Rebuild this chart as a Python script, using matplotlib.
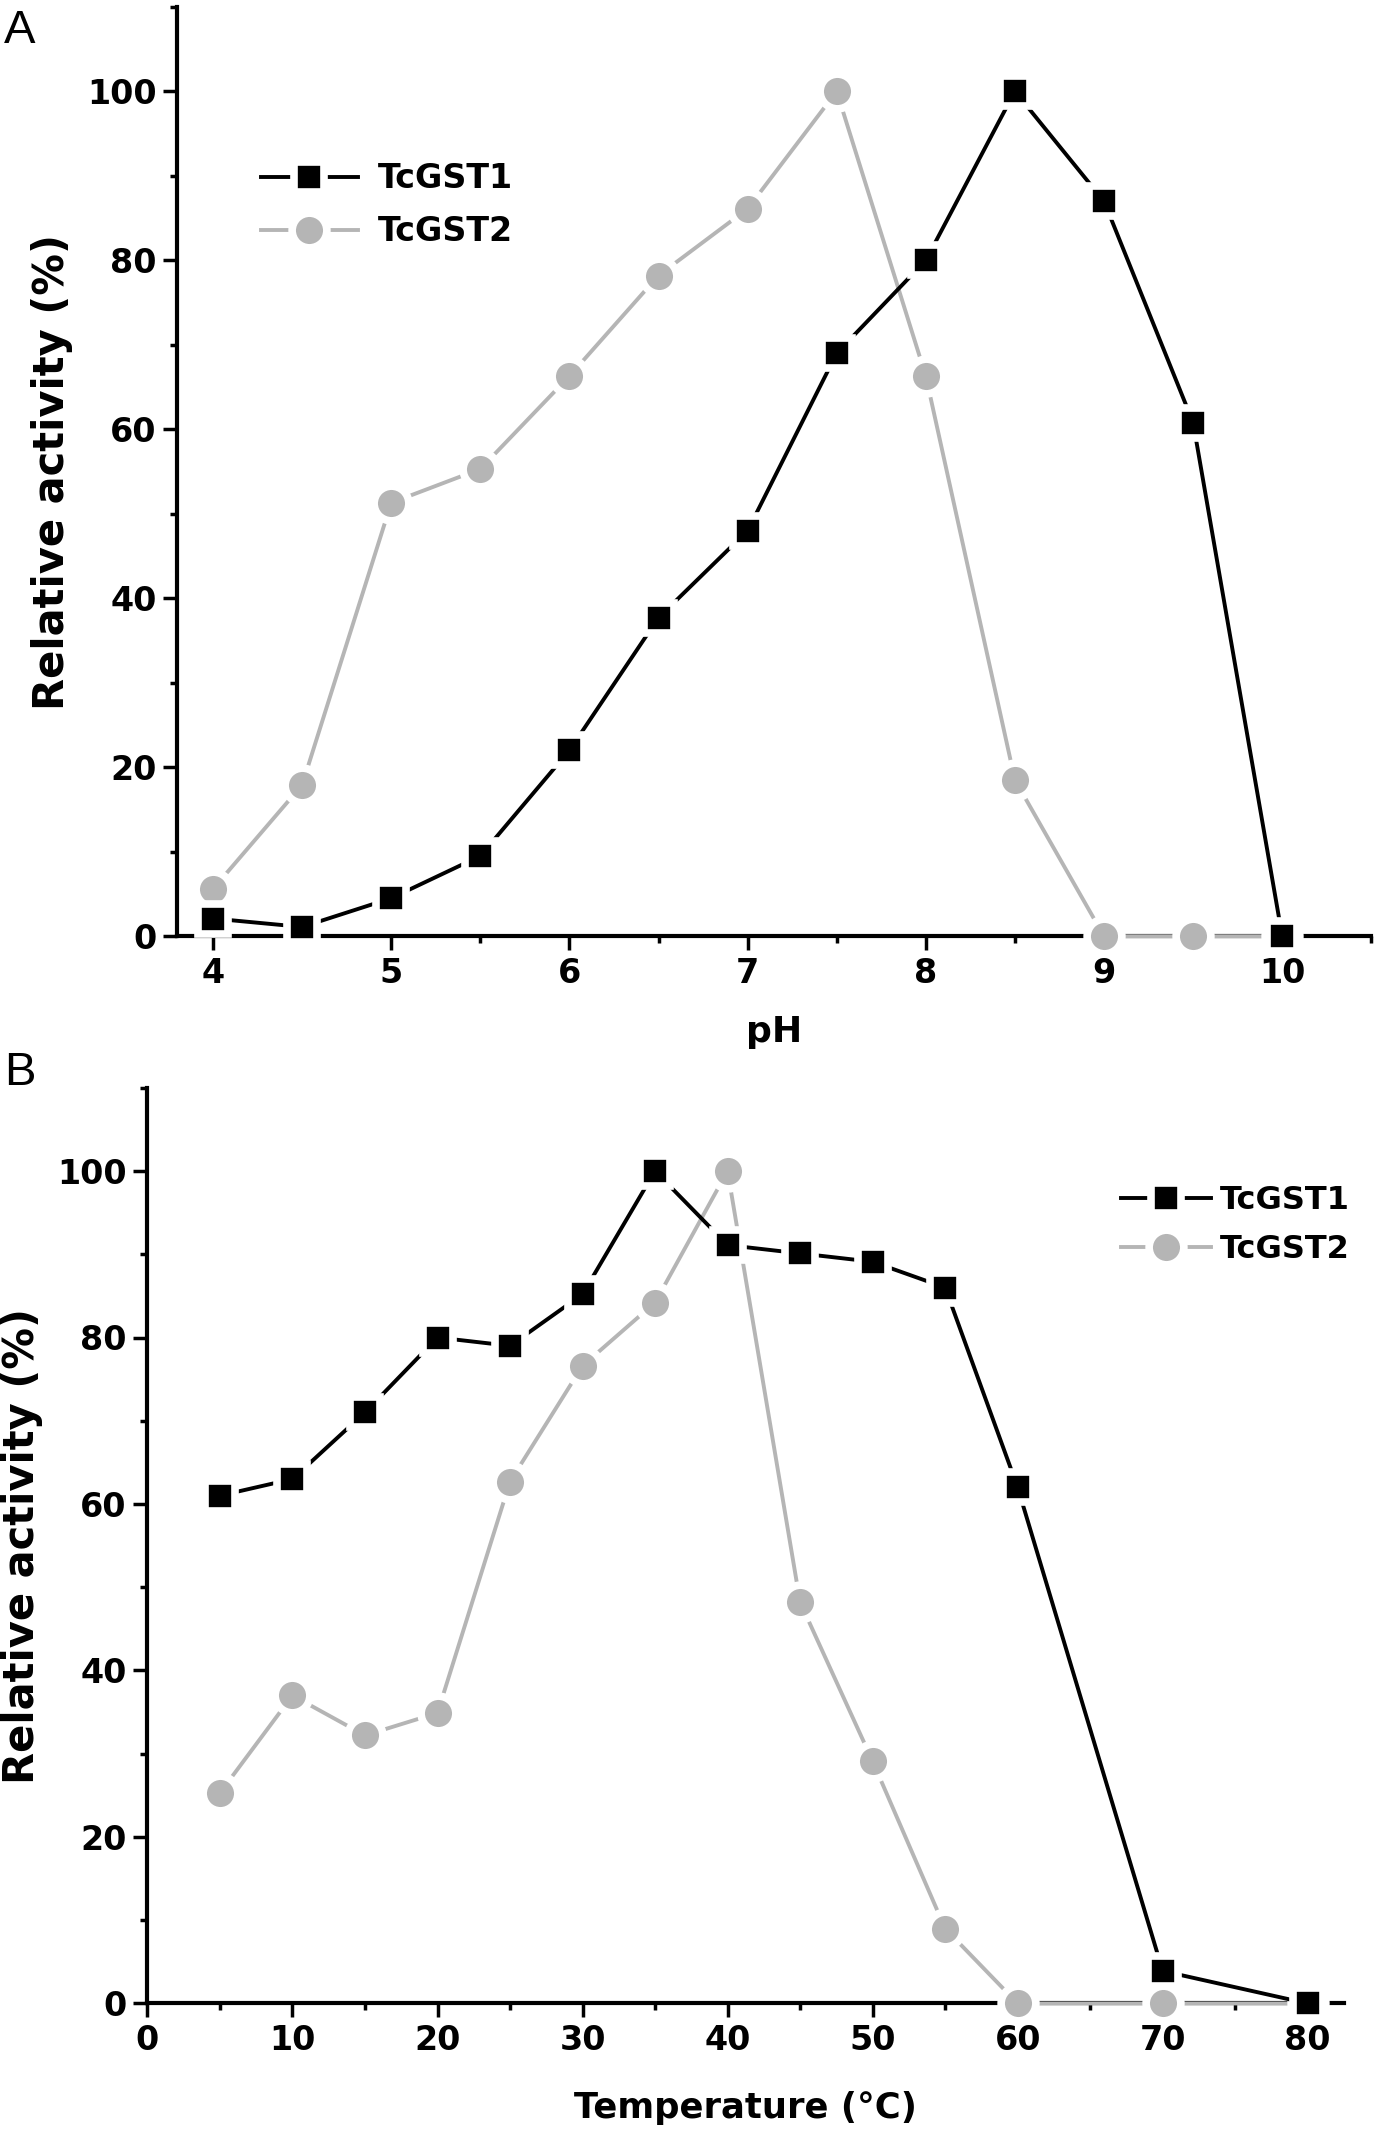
import matplotlib
matplotlib.use("Agg")
import matplotlib.pyplot as plt
from matplotlib.ticker import MultipleLocator

# ---- data ----
ph = [4, 4.5, 5, 5.5, 6, 6.5, 7, 7.5, 8, 8.5, 9, 9.5, 10]
ph_gst1 = [2.1, 1.1, 4.5, 9.5, 22, 37.7, 48, 69, 80, 100, 87, 60.8, 0]
ph_gst2 = [5.6, 17.9, 51.3, 55.3, 66.3, 78.2, 86.1, 100, 66.3, 18.5, 0, 0, 0]

temp = [5, 10, 15, 20, 25, 30, 35, 40, 45, 50, 55, 60, 70, 80]
temp_gst1 = [61, 63, 71, 80, 79, 85.2, 100, 91.1, 90.1, 89.1, 86, 62, 3.9, 0]
temp_gst2 = [25.3, 37, 32.2, 34.9, 62.7, 76.6, 84.2, 100, 48.2, 29.1, 9, 0, 0, 0]

series_names = ["TcGST1", "TcGST2"]

BLACK = "#000000"
GRAY = "#b5b5b5"

plt.rcParams["font.family"] = ["DejaVu Sans"]

fig = plt.figure(figsize=(14, 21.4), dpi=100)

axA = fig.add_axes([0.1267, 0.5625, 0.9795 - 0.1267, 0.9968 - 0.5625])
axB = fig.add_axes([0.1053, 0.0638, 0.96 - 0.1053, 0.4917 - 0.0638])


def style(ax):
    for s in ["top", "right"]:
        ax.spines[s].set_visible(False)
    for s in ["left", "bottom"]:
        ax.spines[s].set_linewidth(3)
    ax.tick_params(which="major", direction="out", length=10, width=2.5, pad=5,
                   labelsize=24)
    ax.tick_params(which="minor", direction="out", length=5, width=2.5)
    for lab in ax.get_xticklabels() + ax.get_yticklabels():
        lab.set_fontweight("bold")
    ax.set_facecolor("none")


def plot_series(ax, x, y1, y2):
    ax.plot(x, y2, color=GRAY, lw=2.8, marker="o", ms=25, mfc=GRAY,
            mec="white", mew=5.5, label=series_names[1], clip_on=False, zorder=3)
    ax.plot(x, y1, color=BLACK, lw=2.8, marker="s", ms=21.5, mfc=BLACK,
            mec="white", mew=5.5, label=series_names[0], clip_on=False, zorder=4)


# Panel A
plot_series(axA, ph, ph_gst1, ph_gst2)
axA.set_xlim(3.8, 10.5)
axA.set_ylim(0, 110)
axA.set_xticks([4, 5, 6, 7, 8, 9, 10])
axA.set_yticks([0, 20, 40, 60, 80, 100])
axA.xaxis.set_minor_locator(MultipleLocator(0.5))
axA.yaxis.set_minor_locator(MultipleLocator(10))
style(axA)
axA.set_xlabel("pH", fontsize=26, fontweight="bold", labelpad=18)
axA.set_ylabel("Relative activity (%)", fontsize=30, fontweight="bold", labelpad=10)
h, l = axA.get_legend_handles_labels()
axA.legend(h[::-1], l[::-1], loc="upper left", bbox_to_anchor=(0.059, 0.847),
           frameon=False, prop={"weight": "bold", "size": 24},
           handlelength=2.9, handletextpad=0.6, labelspacing=0.6, borderaxespad=0)

# Panel B
plot_series(axB, temp, temp_gst1, temp_gst2)
axB.set_xlim(0, 82.5)
axB.set_ylim(0, 110)
axB.set_xticks(range(0, 81, 10))
axB.set_yticks([0, 20, 40, 60, 80, 100])
axB.xaxis.set_minor_locator(MultipleLocator(5))
axB.yaxis.set_minor_locator(MultipleLocator(10))
style(axB)
axB.set_xlabel("Temperature (\u00b0C)", fontsize=25.5, fontweight="bold", labelpad=24)
axB.set_ylabel("Relative activity (%)", fontsize=30, fontweight="bold", labelpad=10)
h, l = axB.get_legend_handles_labels()
axB.legend(h[::-1], l[::-1], loc="upper left", bbox_to_anchor=(0.8033, 0.908),
           frameon=False, prop={"weight": "bold", "size": 23},
           handlelength=2.8, handletextpad=0.28, labelspacing=0.58, borderaxespad=0)

fig.text(0.003, 0.996, "A", fontsize=34, family="Liberation Sans", va="top", ha="left")
fig.text(0.003, 0.509, "B", fontsize=34, family="Liberation Sans", va="top", ha="left")

fig.savefig("out.png", dpi=100, facecolor="white")
